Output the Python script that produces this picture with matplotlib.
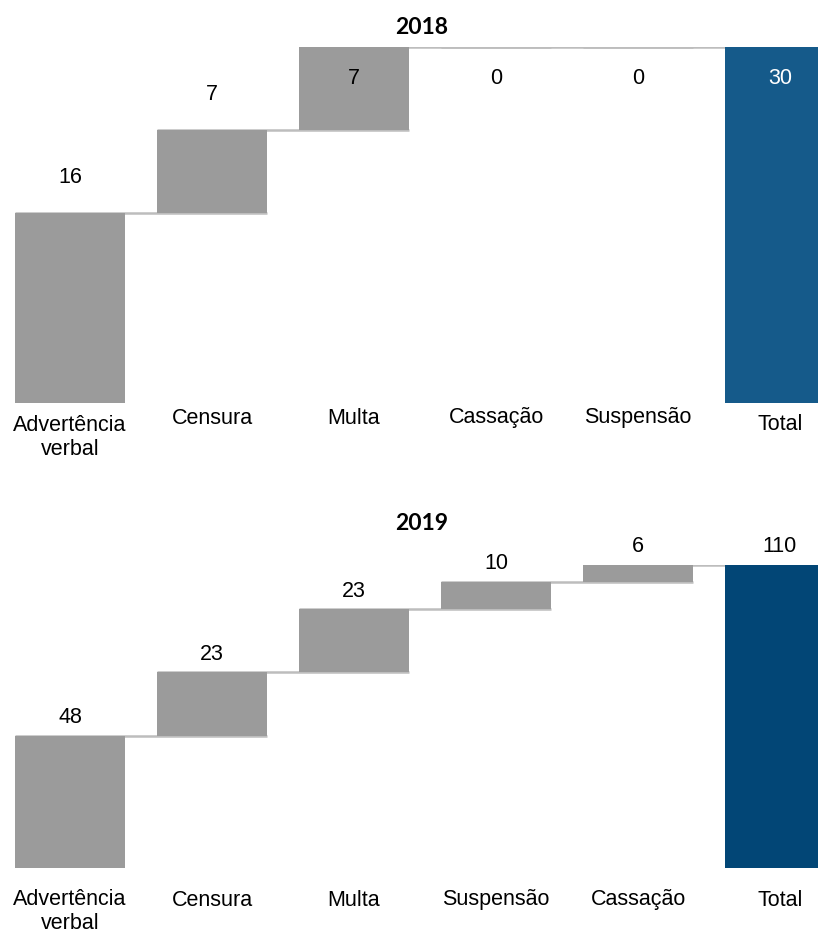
import matplotlib
matplotlib.use("Agg")
import matplotlib.pyplot as plt

# Penalidades aplicadas por ano
cats_2018 = ["Advertência\nverbal", "Censura", "Multa", "Cassação", "Suspensão", "Total"]
vals_2018 = [16, 7, 7, 0, 0]
total_2018 = 30

cats_2019 = ["Advertência\nverbal", "Censura", "Multa", "Suspensão", "Cassação", "Total"]
vals_2019 = [48, 23, 23, 10, 6]
total_2019 = 110

GRAY = "#9b9b9b"
LINE = "#bdbdbd"
FONT = "Liberation Sans"
FS = 15.5

W, H = 818, 935
fig = plt.figure(figsize=(W / 100, H / 100), dpi=100)


def px_axes(top_px, bottom_px):
    return fig.add_axes([0, 1 - bottom_px / H, 1, (bottom_px - top_px) / H])


def waterfall(ax, cats, vals, total, total_color, ymax, above_px, inside_px,
              cat_offsets):
    width = 0.78
    px_per_unit = ax.bbox.height / ymax
    bottoms, tops = [], []
    run = 0
    for v in vals:
        bottoms.append(run)
        run += v
        tops.append(run)
    bottoms.append(0)
    tops.append(total)
    n = len(tops)
    xs = list(range(n))
    heights = [t - b for t, b in zip(tops, bottoms)]
    colors = [GRAY] * (n - 1) + [total_color]
    ax.bar(xs, heights, bottom=bottoms, width=width, color=colors, zorder=3)

    # connectors between consecutive bars
    for i in range(n - 1):
        ax.hlines(tops[i], i - width / 2, i + 1 + width / 2, colors=LINE,
                  linewidth=1.8, zorder=2)

    # value labels
    labels = list(vals) + [total]
    for i in range(n):
        y = tops[i] + above_px / px_per_unit
        inside = False
        if inside_px is not None and tops[i] + above_px / px_per_unit > ymax:
            y = ymax - inside_px / px_per_unit
            inside = True
        color = "white" if (i == n - 1 and inside) else "black"
        ax.text(xs[i], y, str(labels[i]), ha="center", va="center",
                fontsize=FS, family=FONT, color=color, zorder=4,
                clip_on=False)

    # category labels below the axis
    for i, (c, (dy, va)) in enumerate(zip(cats, cat_offsets)):
        ax.annotate(c, xy=(xs[i], 0), xycoords=("data", "axes fraction"),
                    xytext=(0, -dy * 0.72), textcoords="offset points",
                    ha="center", va=va, fontsize=FS, family=FONT,
                    linespacing=1.2, annotation_clip=False)

    ax.set_xlim(-70 / 142, (W - 70) / 142)
    ax.set_ylim(0, ymax)
    ax.axis("off")


ax1 = px_axes(47, 403)
waterfall(ax1, cats_2018, vals_2018, total_2018, "#155a8a", 30,
          above_px=36, inside_px=31,
          cat_offsets=[(12, "top"), (15, "center"), (15, "center"),
                       (15, "center"), (15, "center"), (22, "center")])
fig.text(422 / W, 1 - 27 / H, "2018", ha="center", va="center",
         fontsize=16.5, fontweight="bold", family="Lato")

ax2 = px_axes(565, 868)
waterfall(ax2, cats_2019, vals_2019, total_2019, "#024676", 110,
          above_px=18, inside_px=None,
          cat_offsets=[(21, "top"), (32, "center"), (32, "center"),
                       (32, "center"), (32, "center"), (32, "center")])
fig.text(422 / W, 1 - 523 / H, "2019", ha="center", va="center",
         fontsize=16.5, fontweight="bold", family="Lato")

fig.savefig("out.png", dpi=100)
